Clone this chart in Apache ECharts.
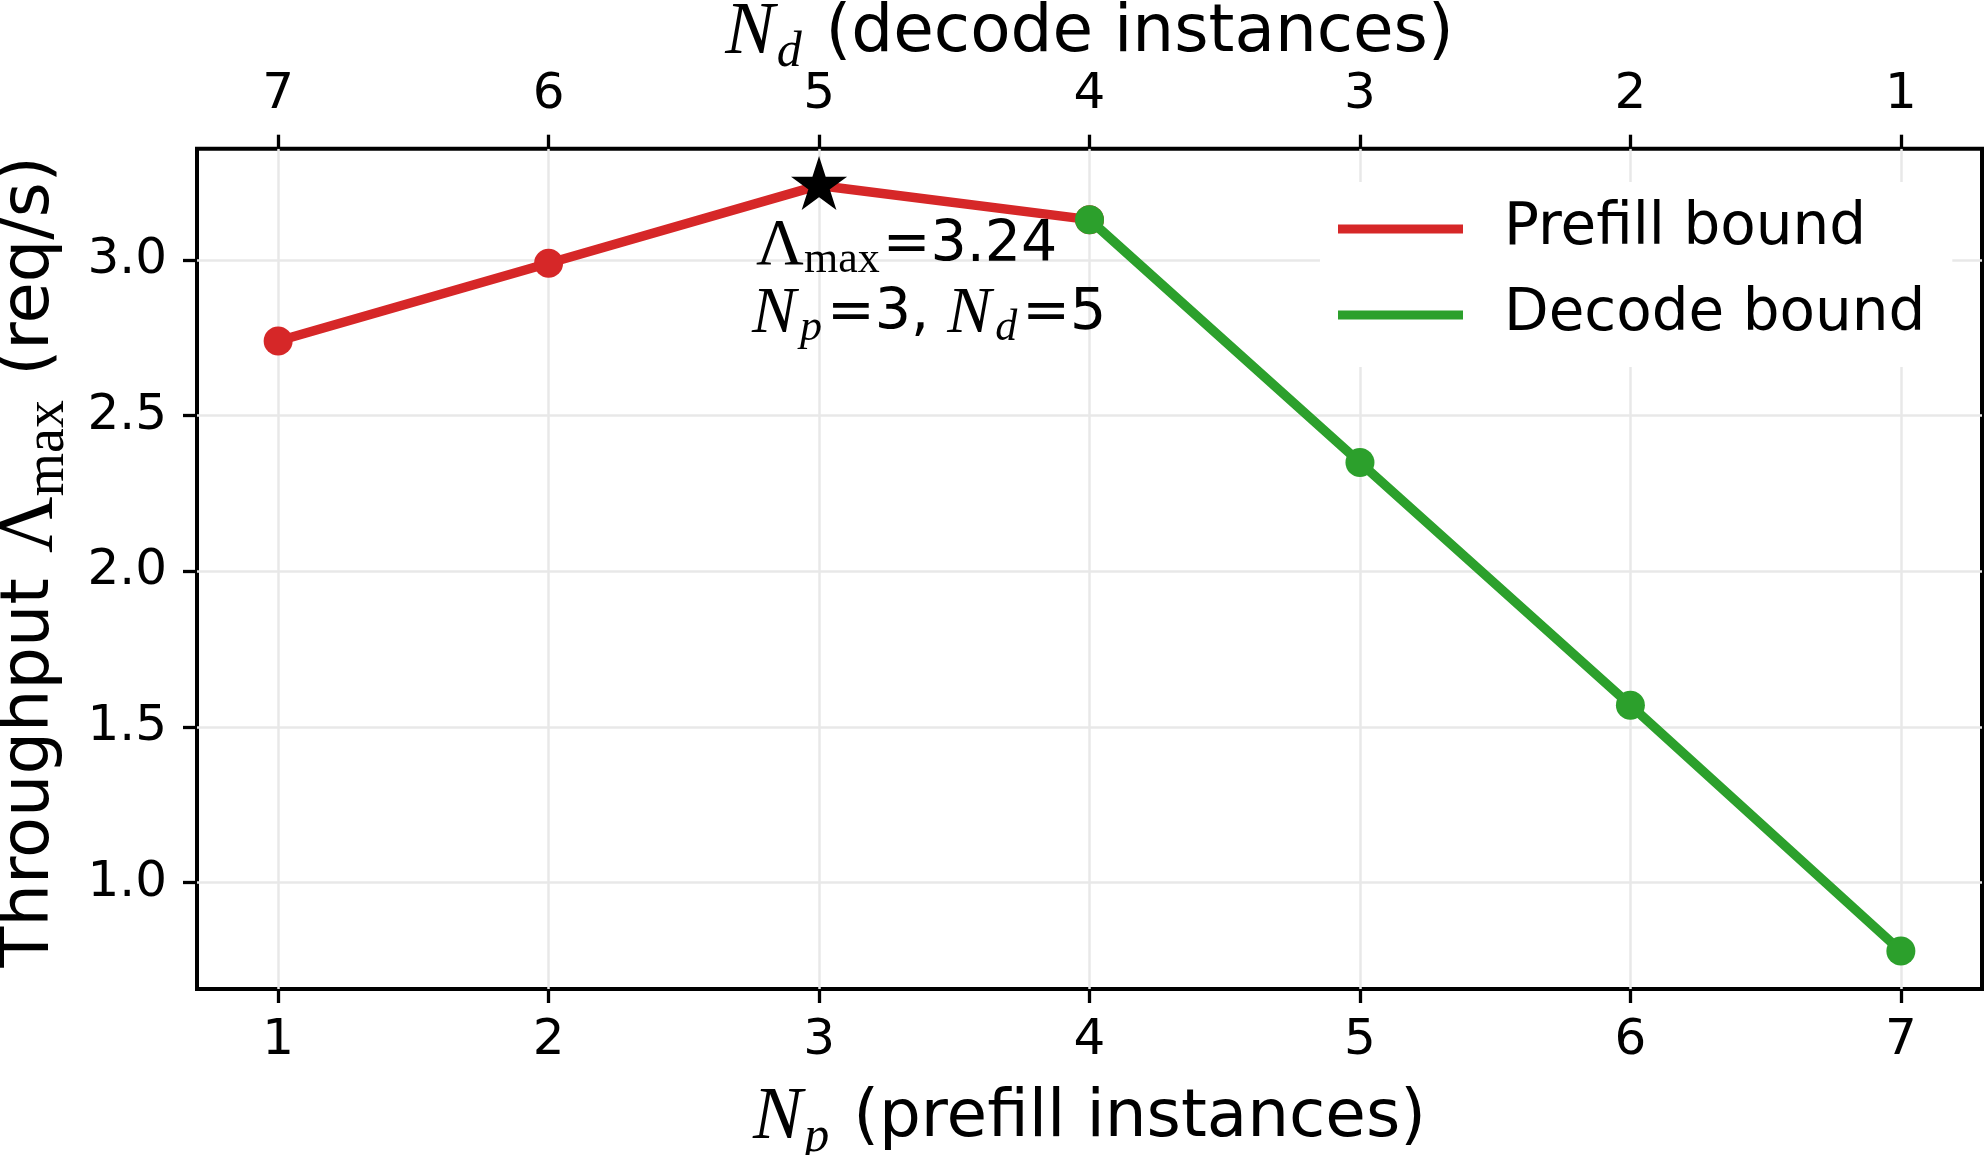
<!DOCTYPE html>
<html><head><meta charset="utf-8">
<script src="https://cdn.jsdelivr.net/npm/echarts@6/dist/echarts.min.js"></script>
<style>html,body{margin:0;padding:0;background:#fff}#c{width:1984px;height:1155px}</style>
</head><body><div id="c"></div>
<script>
// ---- data ----
const npValues = [1, 2, 3, 4, 5, 6, 7];            // bottom axis ticks (N_p)
const ndLabels = ['7', '6', '5', '4', '3', '2', '1']; // top axis tick labels (N_d)
const prefillNp = [1, 2, 3, 4];
const prefillThroughput = [2.74, 2.99, 3.24, 3.13];
const decodeNp = [4, 5, 6, 7];
const decodeThroughput = [3.13, 2.35, 1.57, 0.78];
const yTicks = [1.0, 1.5, 2.0, 2.5, 3.0];
const bestNp = 3, bestNd = 5, bestThroughput = 3.24;
const seriesNames = ['Prefill bound', 'Decode bound'];

// ---- styling ----
const SANS = 'DejaVu Sans';
const SERIF = 'Liberation Serif';
const RED = '#d62728', GREEN = '#2ca02c', GRID = '#e8e8e8';

function mathRich(size, mathSize, subSize, subPad, lh, subSide) {
  const side = subSide || 2;
  return {
    t: { fontFamily: SANS, fontSize: size, lineHeight: lh, color: '#000' },
    i: { fontFamily: SERIF, fontStyle: 'italic', fontSize: mathSize, lineHeight: lh, color: '#000' },
    L: { fontFamily: SERIF, fontSize: mathSize, lineHeight: lh, color: '#000', padding: [0, 0, 0, 4] },
    s: { fontFamily: SERIF, fontSize: subSize, lineHeight: lh, padding: [subPad, 3, 0, 0], color: '#000' },
    si: { fontFamily: SERIF, fontStyle: 'italic', fontSize: subSize, lineHeight: lh, padding: [subPad, side + 1, 0, side], color: '#000' }
  };
}

const xPad = 0.05 * (npValues[npValues.length - 1] - npValues[0]);
const xMin = npValues[0] - xPad, xMax = npValues[npValues.length - 1] + xPad;

const starPath = 'path://M0,-100 L22.45,-30.9 L95.1,-30.9 L36.33,11.8 L58.78,80.9 L0,38.2 L-58.78,80.9 L-36.33,11.8 L-95.1,-30.9 L-22.45,-30.9 Z';

const tickStyle = { show: true, inside: false, length: 14, lineStyle: { color: '#000', width: 3.3 } };
const labelBase = { fontFamily: SANS, fontSize: 50, color: '#000' };

const chart = echarts.init(document.getElementById('c'), null, { renderer: 'canvas' });
chart.setOption({
  animation: false,
  backgroundColor: '#fff',
  grid: { left: 197, right: 2, top: 148.7, bottom: 166, show: true, borderColor: '#000', borderWidth: 4, containLabel: false, outerBoundsMode: 'none' },
  legend: {
    orient: 'vertical', left: 1320, top: 182, backgroundColor: '#fff',
    padding: [17, 27, 22, 18], itemGap: 26, itemWidth: 125, itemHeight: 9, icon: 'rect',
    textStyle: { fontFamily: SANS, fontSize: 58, lineHeight: 60, color: '#000', padding: [0, 0, 0, 36] },
    data: seriesNames
  },
  xAxis: [
    {
      type: 'value', position: 'bottom', min: xMin, max: xMax,
      axisLine: { show: false },
      axisTick: Object.assign({ customValues: npValues }, tickStyle),
      axisLabel: Object.assign({ customValues: npValues, margin: 27, formatter: v => String(v) }, labelBase),
      splitLine: { show: true, lineStyle: { color: GRID, width: 2.5 } },
      name: '{i|N}{si|p}{t| (prefill instances)}', nameLocation: 'middle', nameGap: 97, nameMoveOverlap: false,
      nameTextStyle: { fontSize: 66, fontFamily: SANS, color: '#000', rich: mathRich(66, 74, 50, 38, 66) }
    },
    {
      type: 'value', position: 'top', min: xMin, max: xMax,
      axisLine: { show: false },
      axisTick: Object.assign({ customValues: npValues }, tickStyle),
      axisLabel: Object.assign({ customValues: npValues, margin: 29, formatter: v => ndLabels[npValues.indexOf(Math.round(v))] }, labelBase),
      splitLine: { show: false },
      name: '{i|N}{si|d}{t| (decode instances)}', nameLocation: 'middle', nameGap: 82, nameMoveOverlap: false,
      nameTextStyle: { fontSize: 66, fontFamily: SANS, color: '#000', rich: mathRich(66, 74, 50, 38, 66) }
    }
  ],
  yAxis: {
    type: 'value', min: 0.658, max: 3.358,
    axisLine: { show: false },
    axisTick: Object.assign({ customValues: yTicks }, tickStyle),
    axisLabel: Object.assign({ customValues: yTicks, margin: 30, formatter: v => v.toFixed(1) }, labelBase),
    splitLine: { show: true, lineStyle: { color: GRID, width: 2.5 } },
    name: '{t|Throughput }{L|Λ}{s|max}{t| (req/s)}', nameLocation: 'middle', nameGap: 133, nameMoveOverlap: false,
    nameTextStyle: { fontSize: 67, fontFamily: SANS, color: '#000', padding: [0, 0, 0, 14], rich: mathRich(67, 78, 56, 36, 67) }
  },
  series: [
    {
      name: seriesNames[0], type: 'line', xAxisIndex: 0,
      data: prefillNp.map((x, i) => [x, prefillThroughput[i]]),
      color: RED, lineStyle: { width: 9.5, color: RED },
      symbol: (val) => (val[0] === bestNp ? 'none' : 'circle'), symbolSize: 29, showSymbol: true,
      itemStyle: { color: RED }, z: 2
    },
    {
      name: seriesNames[1], type: 'line', xAxisIndex: 0,
      data: decodeNp.map((x, i) => [x, decodeThroughput[i]]),
      color: GREEN, lineStyle: { width: 9.5, color: GREEN },
      symbol: 'circle', symbolSize: 29, showSymbol: true,
      itemStyle: { color: GREEN }, z: 3
    },
    {
      name: 'optimum', type: 'scatter', xAxisIndex: 0,
      data: [[bestNp, bestThroughput]],
      symbol: starPath, symbolSize: [50, 48], symbolOffset: [0, -2],
      itemStyle: { color: '#000', borderColor: '#000', borderWidth: 2, opacity: 1 }, z: 5,
      label: {
        show: true, position: 'inside', align: 'left', verticalAlign: 'top', offset: [-67, 29], color: '#000', opacity: 1,
        formatter: '{L|Λ}{s|max}{t|=' + bestThroughput.toFixed(2) + '}\n{i|N}{si|p}{t|=' + bestNp + ', }{i|N}{si|d}{t|=' + bestNd + '}',
        rich: mathRich(57, 66, 44, 28, 68, 4)
      }
    }
  ]
});
</script>
</body></html>
